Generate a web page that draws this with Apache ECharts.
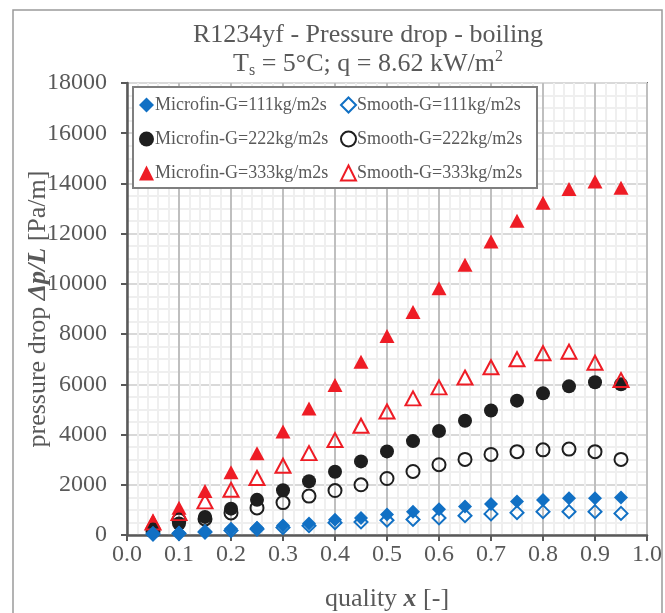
<!DOCTYPE html>
<html>
<head>
<meta charset="utf-8">
<script src="https://cdn.jsdelivr.net/npm/echarts@6/dist/echarts.min.js"></script>
<style>
  html, body { margin: 0; padding: 0; background: #fff; }
  #main { width: 665px; height: 613px; }
</style>
</head>
<body>
<div id="main"></div>
<script>
// vapour quality
var quality = [0.05, 0.1, 0.15, 0.2, 0.25, 0.3, 0.35, 0.4, 0.45, 0.5,
  0.55, 0.6, 0.65, 0.7, 0.75, 0.8, 0.85, 0.9, 0.95];

// pressure drop [Pa/m]
var microfin111 = [80, 90, 150, 250, 290, 380, 460, 610, 680, 820, 930, 1030, 1130, 1230, 1330, 1390, 1460, 1460, 1490];
var smooth111 = [40, 60, 120, 180, 240, 300, 370, 490, 520, 590, 620, 680, 770, 840, 890, 930, 930, 930, 860];
var microfin222 = [220, 460, 720, 1050, 1400, 1780, 2140, 2520, 2930, 3330, 3740, 4140, 4550, 4960, 5350, 5640, 5920, 6080, 6000];
var smooth222 = [150, 600, 640, 880, 1080, 1290, 1550, 1770, 2000, 2250, 2530, 2800, 3010, 3210, 3320, 3390, 3420, 3320, 3010];
var microfin333 = [560, 1090, 1750, 2500, 3260, 4120, 5040, 5970, 6900, 7920, 8880, 9830, 10760, 11690, 12510, 13230, 13780, 14080, 13830];
var smooth333 = [500, 870, 1340, 1800, 2270, 2760, 3260, 3780, 4350, 4920, 5440, 5880, 6270, 6680, 7000, 7240, 7300, 6860, 6170];

var names = ['Microfin-G=111kg/m2s', 'Smooth-G=111kg/m2s',
  'Microfin-G=222kg/m2s', 'Smooth-G=222kg/m2s',
  'Microfin-G=333kg/m2s', 'Smooth-G=333kg/m2s'];

var yTicks = [0, 2000, 4000, 6000, 8000, 10000, 12000, 14000, 16000, 18000];

var FONT = 'Liberation Serif';
var GREY = '#595959';
var BLUE = '#1170c4';
var BLACK = '#1e1e1e';
var RED = '#ee1c25';

function pairs(vals) {
  return quality.map(function (q, i) { return [q, vals[i]]; });
}

function markers(name, vals, symbol, size, color, filled, z) {
  return {
    name: name,
    type: 'scatter',
    data: pairs(vals),
    symbol: symbol,
    symbolSize: size,
    z: z,
    itemStyle: filled
      ? { color: color, borderWidth: 0, opacity: 1 }
      : { color: 'rgba(255,255,255,0)', borderColor: color, borderWidth: 2, opacity: 1 }
  };
}

var myChart = echarts.init(document.getElementById('main'));

var option = {
  backgroundColor: '#fff',
  animation: false,
  textStyle: { fontFamily: FONT },
  title: [
    {
      text: 'R1234yf - Pressure drop - boiling',
      left: 363, top: 17, textAlign: 'center',
      textStyle: { fontFamily: FONT, fontSize: 26, fontWeight: 'normal', color: GREY }
    },
    {
      text: '{n|T}{sub|s}{n| = 5°C; q = 8.62 kW/m}{sup|2}',
      left: 363, top: 44, textAlign: 'center',
      textStyle: {
        fontFamily: FONT, fontSize: 26, fontWeight: 'normal', color: GREY,
        rich: {
          n: { fontFamily: FONT, fontSize: 26, color: GREY, lineHeight: 30 },
          sub: { fontFamily: FONT, fontSize: 16, color: GREY, verticalAlign: 'bottom', lineHeight: 30 },
          sup: { fontFamily: FONT, fontSize: 16, color: GREY, verticalAlign: 'top', lineHeight: 30 }
        }
      }
    }
  ],
  graphic: [
    {
      type: 'rect', z: 0, silent: true,
      shape: { x: 13, y: 10, width: 649, height: 640 },
      style: { fill: 'rgba(0,0,0,0)', stroke: '#9a9a9a', lineWidth: 1.5 }
    },
    {
      type: 'rect', z: 10, silent: true,
      shape: { x: 133, y: 87, width: 404, height: 101 },
      style: { fill: '#fff', stroke: '#7f7f7f', lineWidth: 2 }
    }
  ],
  legend: [
    {
      data: [names[0], names[2], names[4]],
      orient: 'vertical', left: 139, top: 96, z: 11,
      itemWidth: 15, itemHeight: 15, itemGap: 16, padding: 0,
      textStyle: { fontFamily: FONT, fontSize: 18, color: GREY, padding: [0, 0, 0, -4] }
    },
    {
      data: [names[1], names[3], names[5]],
      orient: 'vertical', left: 340, top: 96, z: 11,
      itemWidth: 15, itemHeight: 15, itemGap: 16, padding: 0,
      textStyle: { fontFamily: FONT, fontSize: 18, color: GREY, padding: [0, 0, 0, -4] }
    }
  ],
  grid: {
    left: 127, right: 18, top: 83, bottom: 78,
    outerBoundsMode: 'none',
    show: true, borderColor: '#6e6e6e', borderWidth: 2
  },
  xAxis: {
    type: 'value', min: 0, max: 1, interval: 0.1,
    name: '{n|quality }{b|x}{n| [-]}',
    nameLocation: 'middle', nameGap: 51, nameMoveOverlap: false,
    nameTextStyle: {
      rich: {
        n: { fontFamily: FONT, fontSize: 26, color: GREY },
        b: { fontFamily: FONT, fontSize: 26, color: GREY, fontWeight: 'bold', fontStyle: 'italic' }
      }
    },
    axisLine: { lineStyle: { color: GREY, width: 2.5 } },
    axisTick: { show: true, inside: false, length: 6, lineStyle: { color: GREY, width: 2 } },
    axisLabel: {
      fontFamily: FONT, fontSize: 24, color: GREY, margin: 8,
      formatter: function (v) { return v.toFixed(1); }
    },
    splitLine: { show: true, lineStyle: { color: '#bfbfbf', width: 2 } },
    minorTick: { show: false, splitNumber: 5 },
    minorSplitLine: { show: true, lineStyle: { color: '#efefef', width: 2 } }
  },
  yAxis: {
    type: 'value', min: yTicks[0], max: yTicks[yTicks.length - 1], interval: 2000,
    name: '{n|pressure drop }{b|Δp/L}{n| [Pa/m]}',
    nameLocation: 'middle', nameGap: 76, nameRotate: 90, nameMoveOverlap: false,
    nameTextStyle: {
      rich: {
        n: { fontFamily: FONT, fontSize: 26, color: GREY },
        b: { fontFamily: FONT, fontSize: 26, color: GREY, fontWeight: 'bold', fontStyle: 'italic' }
      }
    },
    axisLine: { show: true, lineStyle: { color: GREY, width: 2.5 } },
    axisTick: { show: true, inside: false, length: 6, lineStyle: { color: GREY, width: 2 } },
    axisLabel: {
      fontFamily: FONT, fontSize: 24, color: GREY, margin: 20,
      formatter: function (v) { return String(v); }
    },
    splitLine: { show: true, lineStyle: { color: '#d9d9d9', width: 2 } },
    minorTick: { show: false, splitNumber: 4 },
    minorSplitLine: { show: true, lineStyle: { color: '#efefef', width: 2 } }
  },
  series: [
    markers(names[4], microfin333, 'triangle', [15, 14], RED, true, 2),
    markers(names[2], microfin222, 'circle', 14, BLACK, true, 3),
    markers(names[3], smooth222, 'circle', 13, BLACK, false, 4),
    markers(names[5], smooth333, 'triangle', [15, 14], RED, false, 5),
    markers(names[0], microfin111, 'diamond', 14, BLUE, true, 6),
    markers(names[1], smooth111, 'diamond', 13, BLUE, false, 7)
  ]
};

if (option && typeof option === 'object') {
  myChart.setOption(option);
}
</script>
</body>
</html>
